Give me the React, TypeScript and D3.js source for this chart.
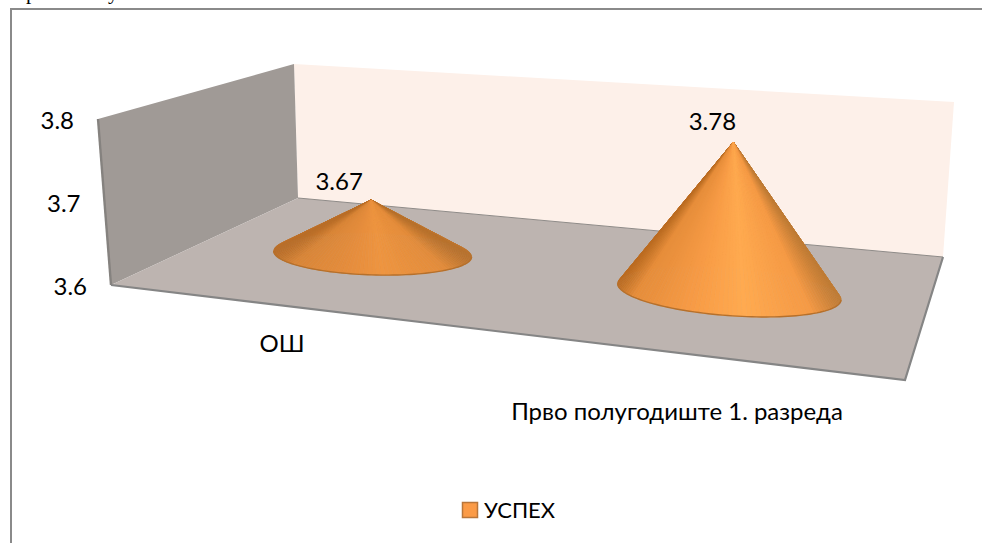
import React from 'react';
import * as d3 from 'd3';

const categories = ['ОШ', 'Прво полугодиште 1. разреда'];
const values = [3.67, 3.78];
const yTicks = [3.6, 3.7, 3.8];
const seriesName = 'УСПЕХ';

const width = 982;
const height = 543;

type Pt = [number, number];

// chart box corners as they land on screen (f/b = front/back, l/r = left/right)
const floor = { fl: [111, 285] as Pt, fr: [905, 380] as Pt, bl: [298, 198] as Pt, br: [943, 257] as Pt };
const roof = { fl: [98, 119] as Pt, fr: [912, 185] as Pt, bl: [294, 64] as Pt, br: [954, 102] as Pt };

const mix = (a: Pt, b: Pt, t: number): Pt => [a[0] + (b[0] - a[0]) * t, a[1] + (b[1] - a[1]) * t];

const plane = (c: typeof floor, u: number, w: number) => mix(mix(c.fl, c.fr, u), mix(c.bl, c.br, u), w);
const project = (u: number, w: number, h: number) => mix(plane(floor, u, w), plane(roof, u, w), h);

const yScale = d3.scaleLinear().domain([3.6, 3.8]).range([0, 1]);
const xScale = d3.scalePoint<string>().domain(categories).range([0.223, 0.724]);
const depth = 0.55;

// base ellipse of each cone
const baseShape = [
  { rx: 99, ry: 21, tilt: 0.03 },
  { rx: 112, ry: 24, tilt: 0.075 },
];

const shade = [
  d3.scaleLinear<string>().domain([-1, -0.8, -0.2, 0.1, 0.75, 1]).range(['#b86d28', '#d98638', '#e78e3d', '#ee9540', '#e38c3b', '#b8722e']),
  d3.scaleLinear<string>().domain([-1, -0.85, -0.3, 0.15, 0.75, 1]).range(['#bb6c22', '#e68d3a', '#f89c46', '#ffaa50', '#f59a45', '#c07c36']),
];

const path = d3.line<Pt>();
const poly = (pts: Pt[]) => path(pts) + 'Z';
const step = Math.PI / 72;
const angles = d3.range(0, 2 * Math.PI, step);

const font = 'Lato, "Open Sans", sans-serif';
const fontSize = 24;
const valueOffsetX = [-32, -21];
const valueOffsetY = [-10.5, -12];

function Cone({ index }: { index: number }) {
  const u = xScale(categories[index]) as number;
  const [cx, cy] = project(u, depth, 0);
  const apex = project(u, depth, yScale(values[index]));
  const { rx, ry, tilt } = baseShape[index];
  const rim = (t: number): Pt => {
    const a = rx * Math.cos(t);
    const b = ry * Math.sin(t);
    return [cx + a * Math.cos(tilt) - b * Math.sin(tilt), cy + a * Math.sin(tilt) + b * Math.cos(tilt)];
  };
  // back of the cone first so the front slices sit on top
  const slices = [...angles].sort((a, b) => Math.sin(a) - Math.sin(b));
  const front = d3.range(0, Math.PI + step, step).map(rim);
  return (
    <g>
      {slices.map((t) => {
        const col = shade[index](Math.cos(t + step / 2));
        return <path key={t} d={poly([apex, rim(t), rim(t + step)])} fill={col} stroke={col} strokeWidth={0.6} />;
      })}
      <path d={path(front) as string} fill="none" stroke="#b5702c" strokeWidth={1.4} />
      <text x={apex[0] + valueOffsetX[index]} y={apex[1] + valueOffsetY[index]} fontSize={fontSize} fontFamily={font} fill="#000" textAnchor="middle">
        {values[index].toFixed(2)}
      </text>
    </g>
  );
}

export default function App() {
  const labelPos: Pt[] = [[282, 352], [677, 420]];
  return (
    <svg width={width} height={height} viewBox={`0 0 ${width} ${height}`} style={{ position: 'absolute', left: 0, top: 0, display: 'block' }}>
      <rect width={width} height={height} fill="#fff" />
      {/* bits of the page text above the frame */}
      <text x={26} y={-1} fontSize={21} fontFamily='"Liberation Serif", serif'>р</text>
      <text x={108} y={-1} fontSize={21} fontFamily='"Liberation Serif", serif'>у</text>
      <path d={`M11 ${height}V9H${width}`} fill="none" stroke="#8a8a8a" strokeWidth={2} />

      {/* walls and floor */}
      <path d={poly([roof.bl, roof.br, floor.br, floor.bl])} fill="#fdf0e9" />
      <path d={poly([roof.fl, roof.bl, floor.bl, floor.fl])} fill="#a09a96" />
      <path d={poly([floor.fl, floor.bl, floor.br, floor.fr])} fill="#bdb4b0" />
      <path d={path([roof.fl, floor.fl]) as string} fill="none" stroke="#85827f" strokeWidth={2.4} />
      <path d={path([floor.bl, floor.br]) as string} fill="none" stroke="#8f8b88" strokeWidth={1} />
      <path d={path([floor.fl, floor.fr, floor.br]) as string} fill="none" stroke="#858585" strokeWidth={2.2} />

      {categories.map((_, i) => <Cone key={i} index={i} />)}

      {yTicks.map((t) => {
        const [x, y] = project(0, 0, yScale(t));
        return (
          <text key={t} x={x - 24} y={y + 9.5} fontSize={fontSize} fontFamily={font} textAnchor="end" fill="#000">
            {t.toFixed(1)}
          </text>
        );
      })}

      {categories.map((c, i) => (
        <text key={c} x={labelPos[i][0]} y={labelPos[i][1]} fontSize={fontSize} fontFamily={font} textAnchor="middle" fill="#000">
          {c}
        </text>
      ))}

      <rect x={462.5} y={502.5} width={15} height={15} fill="#fb9b47" stroke="#b9763a" strokeWidth={1.5} />
      <text x={484} y={518} fontSize={22} fontFamily={font} fill="#000">{seriesName}</text>
    </svg>
  );
}
